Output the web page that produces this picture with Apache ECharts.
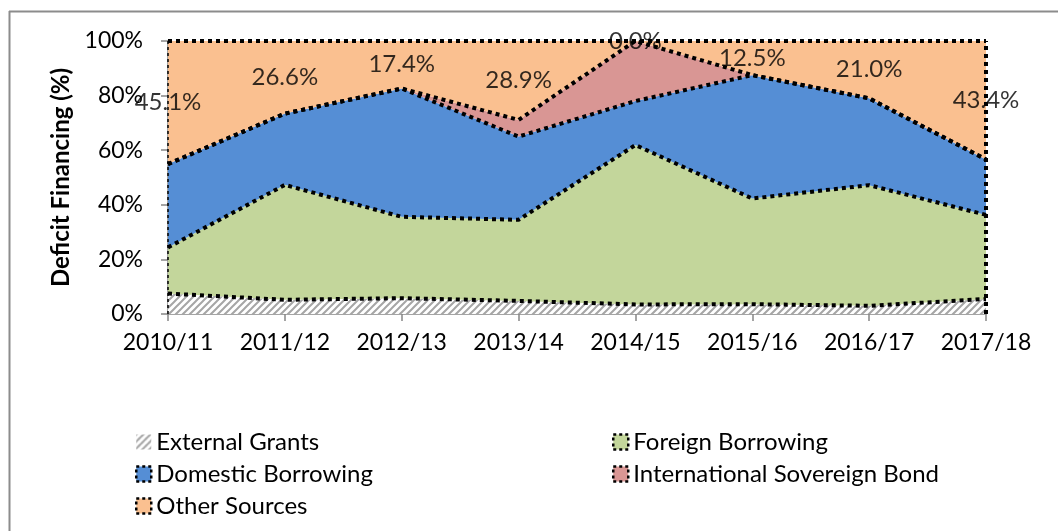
<!DOCTYPE html>
<html>
<head>
<meta charset="utf-8">
<script src="https://cdn.jsdelivr.net/npm/echarts@6/dist/echarts.min.js"></script>
<style>
  html, body { margin: 0; padding: 0; background: #fff; }
  #chart { width: 1058px; height: 531px; }
</style>
</head>
<body>
<div id="chart"></div>
<script>
const years = ['2010/11', '2011/12', '2012/13', '2013/14', '2014/15', '2015/16', '2016/17', '2017/18'];
const externalGrants = [7.5, 5.2, 5.8, 4.8, 3.5, 3.6, 3.0, 5.5];
const foreignBorrowing = [16.9, 42.1, 29.8, 29.7, 58.4, 38.7, 44.2, 30.8];
const domesticBorrowing = [30.5, 26.1, 47.0, 30.5, 16.1, 45.2, 31.8, 20.3];
const sovereignBond = [0, 0, 0, 6.1, 22.0, 0, 0, 0];
const otherSources = [45.1, 26.6, 17.4, 28.9, 0.0, 12.5, 21.0, 43.4];

const FONT = 'Lato';

// hatch pattern for external grants
const hatch = document.createElement('canvas');
hatch.width = 7;
hatch.height = 7;
const hc = hatch.getContext('2d');
hc.fillStyle = '#fff';
hc.fillRect(0, 0, 7, 7);
hc.strokeStyle = '#a6a6a6';
hc.lineWidth = 2;
hc.beginPath();
hc.moveTo(-1, 8); hc.lineTo(8, -1);
hc.moveTo(-1, 1); hc.lineTo(1, -1);
hc.moveTo(6, 8); hc.lineTo(8, 6);
hc.stroke();
const hatchFill = { image: hatch, repeat: 'repeat' };

const dots = [4, 4];

function band(name, data, fill) {
  return {
    name: name,
    type: 'line',
    stack: 'total',
    data: data,
    symbol: 'none',
    silent: true,
    itemStyle: { color: fill },
    lineStyle: { color: '#000', width: 4, type: dots },
    areaStyle: { color: fill, opacity: 1 }
  };
}

const edgeLines = {
  silent: true,
  symbol: 'none',
  label: { show: false },
  data: [
    { xAxis: years[0], lineStyle: { color: '#000', width: 1.5, type: [3, 3] } },
    { xAxis: years[years.length - 1], lineStyle: { color: '#000', width: 4, type: dots } },
    { yAxis: 100, lineStyle: { color: '#000', width: 4, type: dots } }
  ]
};

const series = [
  band('External Grants', externalGrants, hatchFill),
  band('Foreign Borrowing', foreignBorrowing, '#c3d69b'),
  band('Domestic Borrowing', domesticBorrowing, '#558ed5'),
  band('International Sovereign Bond', sovereignBond, '#d99694'),
  band('Other Sources', otherSources, '#fac090')
];
series[4].markLine = edgeLines;

// label Other Sources in the middle of its band
series.push({
  name: 'otherLabels',
  type: 'scatter',
  data: otherSources.map(v => 100 - v / 2),
  symbolSize: 0,
  silent: true,
  z: 5,
  label: {
    show: true,
    position: 'inside',
    formatter: p => otherSources[p.dataIndex].toFixed(1) + '%',
    color: '#000',
    fontFamily: FONT,
    fontSize: 24
  }
});

const legendItem = (name, fill) => ({
  name: name,
  itemStyle: { color: fill, borderColor: '#000', borderWidth: 2.5, borderType: [3, 3] }
});

const legendText = { fontFamily: FONT, fontSize: 24, color: '#000' };

const chart = echarts.init(document.getElementById('chart'));
chart.setOption({
  animation: false,
  grid: { left: 168, right: 72, top: 41, bottom: 217 },
  legend: [
    {
      orient: 'vertical', left: 130, top: 425, itemGap: 8,
      itemWidth: 15, itemHeight: 15, icon: 'rect', textStyle: legendText,
      data: [
        { name: 'External Grants', itemStyle: { color: hatchFill, borderWidth: 0 } },
        legendItem('Domestic Borrowing', '#558ed5'),
        legendItem('Other Sources', '#fac090')
      ]
    },
    {
      orient: 'vertical', left: 607, top: 425, itemGap: 8,
      itemWidth: 15, itemHeight: 15, icon: 'rect', textStyle: legendText,
      data: [
        legendItem('Foreign Borrowing', '#c3d69b'),
        legendItem('International Sovereign Bond', '#d99694')
      ]
    }
  ],
  xAxis: {
    type: 'category',
    data: years,
    boundaryGap: false,
    axisLine: { lineStyle: { color: '#868686', width: 1.5 } },
    axisTick: { show: true, interval: 0, length: 7, lineStyle: { color: '#868686', width: 1.5 } },
    axisLabel: { color: '#000', fontFamily: FONT, fontSize: 23, margin: 17, interval: 0, hideOverlap: false },
    splitLine: { show: false }
  },
  yAxis: {
    type: 'value',
    min: 0, max: 100, interval: 20,
    name: 'Deficit Financing (%)',
    nameLocation: 'middle',
    nameGap: 94,
    nameTextStyle: { color: '#000', fontFamily: FONT, fontSize: 24, fontWeight: 'bold' },
    axisLine: { show: true, lineStyle: { color: '#868686', width: 1.5 } },
    axisTick: { show: true, length: 7, lineStyle: { color: '#868686', width: 1.5 } },
    axisLabel: { color: '#000', fontFamily: FONT, fontSize: 23, margin: 25, formatter: '{value}%' },
    splitLine: { show: false }
  },
  graphic: [
    { type: 'line', shape: { x1: 9.5, y1: 11, x2: 9.5, y2: 531 }, style: { stroke: '#8c8c8c', lineWidth: 2 } },
    { type: 'line', shape: { x1: 9, y1: 11.5, x2: 1058, y2: 11.5 }, style: { stroke: '#8c8c8c', lineWidth: 2 } }
  ],
  series: series
});
</script>
</body>
</html>
